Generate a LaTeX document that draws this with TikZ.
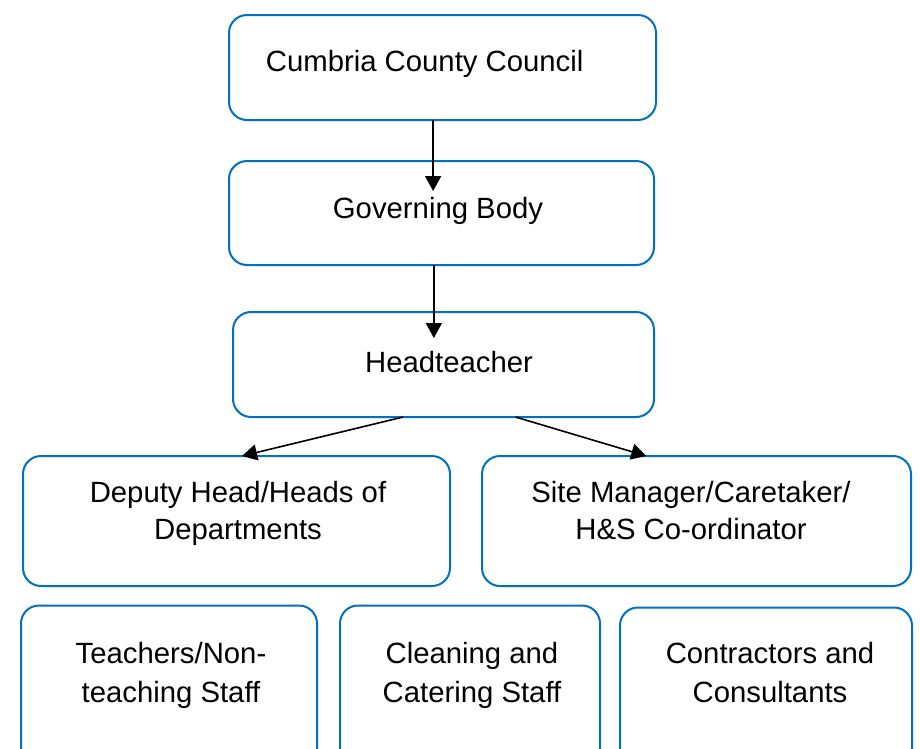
\documentclass[tikz,border=0pt]{standalone}
\usepackage{fontspec}
\setmainfont{Liberation Sans}
\usetikzlibrary{calc,arrows.meta}
\definecolor{boxblue}{RGB}{0,112,192}
\tikzset{
  orgbox/.style={draw=boxblue, line width=2pt, rounded corners=18pt, fill=white,
    inner sep=0pt, outer sep=0pt},
  lbl/.style={anchor=base, align=center, inner sep=0pt,
    font=\fontsize{29.3}{37}\selectfont},
  lblb/.style={lbl, font=\fontsize{29.3}{39}\selectfont},
  conn/.style={line width=1.6pt, -{Triangle[length=15pt,width=16pt]}}
}
\begin{document}
\begin{tikzpicture}[x=1pt,y=-1pt]
\clip (0,0) rectangle (920,748);
\fill[white] (0,0) rectangle (920,748);
% boxes
\node[orgbox, minimum width=427pt, minimum height=105pt] (cumbria) at (442.5,67.5) {};
\node[orgbox, minimum width=425pt, minimum height=104pt] (gov) at (441.5,213) {};
\node[orgbox, minimum width=421pt, minimum height=105pt] (head) at (443.5,364.5) {};
\node[orgbox, minimum width=427pt, minimum height=130pt] (deputy) at (236.5,521) {};
\node[orgbox, minimum width=429pt, minimum height=130pt] (site) at (696.5,521) {};
\node[orgbox, minimum width=296pt, minimum height=185pt] (teach) at (169,698) {};
\node[orgbox, minimum width=260pt, minimum height=185pt] (clean) at (470,698) {};
\node[orgbox, minimum width=292pt, minimum height=183pt] (contr) at (766,699) {};
% texts
\node[lbl] (tcumbria) at (424.7,71) {Cumbria County Council};
\node[lbl] (tgov) at (438,218) {Governing Body};
\node[lbl] (thead) at (449,372) {Headteacher};
\node[lbl] (tdeputy) at (238,539) {Deputy Head/Heads of\\Departments};
\node[lbl] (tsite) at (691,539) {Site Manager/Caretaker/\\H\&S Co-ordinator};
\node[lblb] (tteach) at (171,702) {Teachers/Non-\\teaching Staff};
\node[lblb] (tclean) at (472,702) {Cleaning and\\Catering Staff};
\node[lblb] (tcontr) at (770,702) {Contractors and\\Consultants};
% connector end points
\coordinate (c1s) at ($(cumbria.south west)!0.478!(cumbria.south east)$);
\coordinate (c1e) at ($(c1s |- gov.north)+(0,30)$);
\coordinate (c2s) at ($(gov.south west)!0.482!(gov.south east)$);
\coordinate (c2e) at ($(c2s |- head.north)+(0,26)$);
\coordinate (c3s) at ($(head.south west)!0.404!(head.south east)$);
\coordinate (c3e) at ($(deputy.north west)!0.513!(deputy.north east)$);
\coordinate (c4s) at ($(head.south west)!0.671!(head.south east)$);
\coordinate (c4e) at ($(site.north west)!0.383!(site.north east)$);
\draw[conn] (c1s) -- (c1e);
\draw[conn] (c2s) -- (c2e);
\draw[conn] (c3s) -- (c3e);
\draw[conn] (c4s) -- (c4e);
\end{tikzpicture}
\end{document}
